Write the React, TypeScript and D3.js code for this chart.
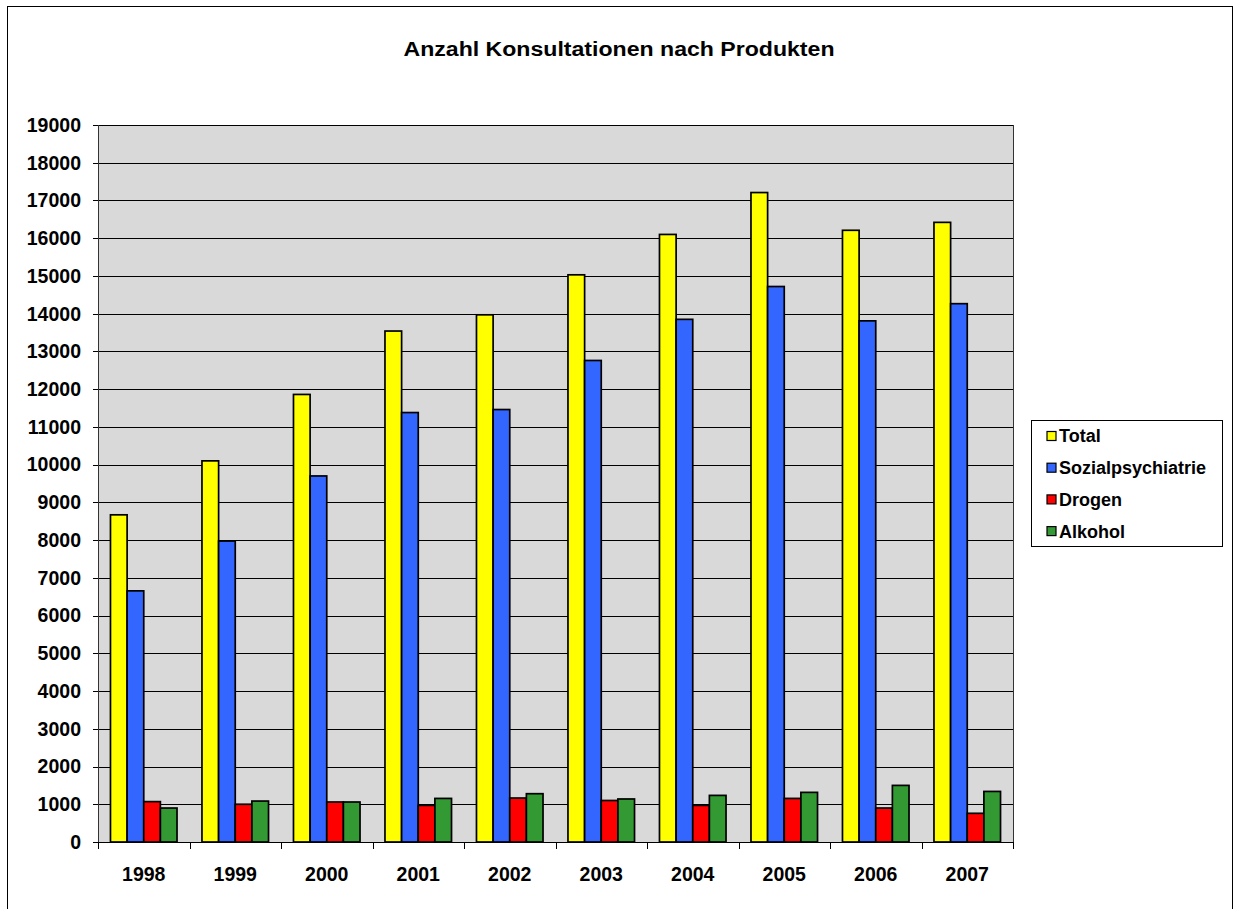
import React from "react";
import * as d3 from "d3";

const years = ["1998", "1999", "2000", "2001", "2002", "2003", "2004", "2005", "2006", "2007"];
const seriesNames = ["Total", "Sozialpsychiatrie", "Drogen", "Alkohol"];
const seriesColors = ["#FFFF00", "#3366FF", "#FF0000", "#339933"];
const total = [8670, 10100, 11860, 13540, 13970, 15030, 16100, 17210, 16210, 16420];
const sozial = [6655, 7975, 9700, 11380, 11460, 12760, 13850, 14720, 13810, 14265];
const drogen = [1070, 1000, 1060, 970, 1165, 1100, 970, 1155, 900, 760];
const alkohol = [900, 1085, 1060, 1155, 1280, 1140, 1235, 1315, 1500, 1340];
const yTicks = d3.range(0, 19001, 1000);
const title = "Anzahl Konsultationen nach Produkten";

const seriesValues = [total, sozial, drogen, alkohol];

export default function App() {
  const W = 1239, H = 909;
  const left = 98, right = 1013, top = 125, bottom = 842;
  const x0 = d3.scaleBand<string>().domain(years).range([left, right]).padding(0);
  const x1 = d3.scaleBand<string>().domain(seriesNames).range([0, x0.bandwidth()]).paddingInner(0).paddingOuter(0.75);
  const y = d3.scaleLinear().domain([0, 19000]).range([bottom, top]);
  const font = "'Liberation Sans', Arial, sans-serif";

  return (
    <svg width={W} height={H} style={{ position: "absolute", left: 0, top: 0, background: "#fff" }} fontFamily={font}>
      <rect x={7.5} y={6.5} width={1225} height={920} fill="#fff" stroke="#000" strokeWidth={1} />
      <text x={619} y={56} textAnchor="middle" fontSize={20} fontWeight="bold" textLength={431} lengthAdjust="spacingAndGlyphs">{title}</text>

      <rect x={left} y={top} width={right - left} height={bottom - top} fill="#D9D9D9" />
      {yTicks.map((t) => (
        <g key={t}>
          <line x1={left - 5} x2={right} y1={Math.round(y(t)) + 0.5} y2={Math.round(y(t)) + 0.5} stroke="#000" strokeWidth={1} shapeRendering="crispEdges" />
          <text x={81} y={y(t)} dy="0.35em" textAnchor="end" fontSize={19.5} fontWeight="bold">{t}</text>
        </g>
      ))}
      <line x1={right + 0.5} x2={right + 0.5} y1={top} y2={bottom} stroke="#333" strokeWidth={1} shapeRendering="crispEdges" />

      {years.map((yr, i) => (
        <g key={yr} transform={`translate(${x0(yr)},0)`}>
          {seriesNames.map((s, j) => {
            const v = seriesValues[j][i];
            return (
              <rect key={s} x={x1(s)} y={y(v)} width={x1.bandwidth()} height={bottom - y(v)} fill={seriesColors[j]} stroke="#000" strokeWidth={1.7} />
            );
          })}
        </g>
      ))}

      <line x1={left + 0.5} x2={left + 0.5} y1={top} y2={bottom} stroke="#333" strokeWidth={1.5} shapeRendering="crispEdges" />
      <line x1={left} x2={right} y1={bottom + 0.5} y2={bottom + 0.5} stroke="#000" strokeWidth={1.5} shapeRendering="crispEdges" />
      {[...years.map((yr) => x0(yr) as number), right].map((xx, i) => (
        <line key={i} x1={Math.round(xx) + 0.5} x2={Math.round(xx) + 0.5} y1={bottom} y2={bottom + 7} stroke="#000" strokeWidth={1} shapeRendering="crispEdges" />
      ))}
      {years.map((yr) => (
        <text key={yr} x={(x0(yr) as number) + x0.bandwidth() / 2} y={881} textAnchor="middle" fontSize={19.5} fontWeight="bold">{yr}</text>
      ))}

      <rect x={1031.5} y={420.5} width={191} height={126} fill="#fff" stroke="#000" strokeWidth={1} />
      {seriesNames.map((s, j) => (
        <g key={s} transform={`translate(0,${436 + j * 31.7})`}>
          <rect x={1047} y={-4.5} width={9} height={9} fill={seriesColors[j]} stroke="#000" strokeWidth={1.2} />
          <text x={1059} y={0} dy="0.36em" fontSize={18} fontWeight="bold">{s}</text>
        </g>
      ))}
    </svg>
  );
}
